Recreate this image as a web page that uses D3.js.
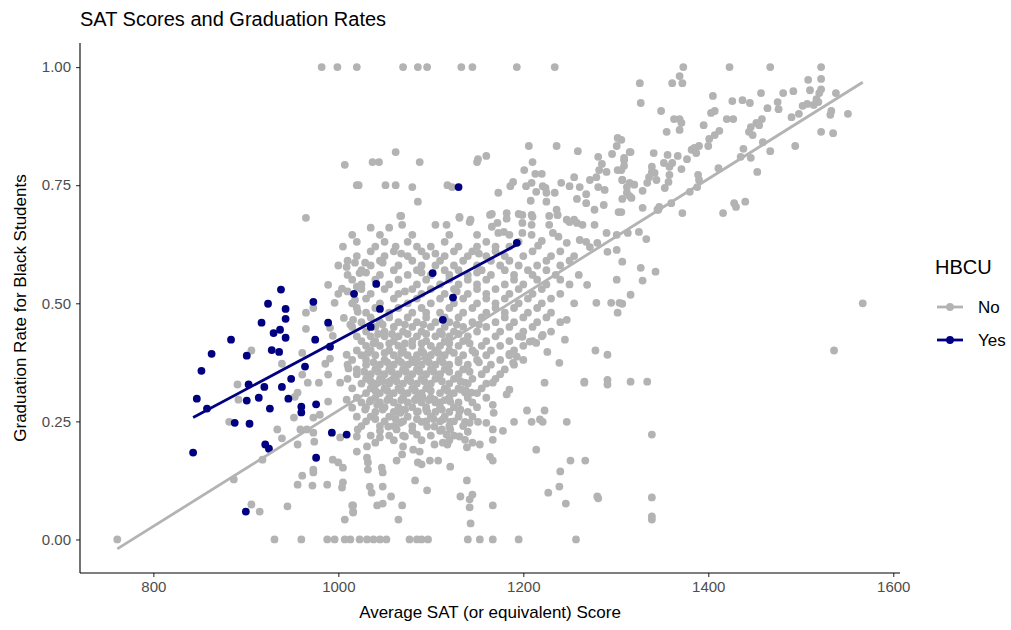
<!DOCTYPE html>
<html lang="en">
<head>
<meta charset="UTF-8">
<title>SAT Scores and Graduation Rates</title>
<script src="https://d3js.org/d3.v7.min.js"></script>
<style>
  body { margin: 0; background: #fff; }
  svg { font-family: "Liberation Sans", Arial, sans-serif; }
  .tick text { fill: #4d4d4d; font-size: 15px; }
</style>
</head>
<body>
<div id="chart"></div>
<script>
// Schools that are not HBCUs: [average SAT, graduation rate for Black students]
const notHbcu = [
  // rate = 1
  [982,1],[999,1],[1020,1],[1070,1],[1086,1],[1096,1],[1133,1],[1145,1],[1193,1],[1234,1],
  [1373,1],[1423,1],[1467,1],[1522,1],
  // rate = 0
  [761,0],[931,0],[960,0],[988,0],[996,0],[1007,0],[1013,0],[1023,0],[1031,0],[1038,0],
  [1045,0],[1052,0],[1077,0],[1085,0],[1090,0],[1097,0],[1140,0],[1153,0],[1167,0],[1195,0],[1257,0],
  // upper left
  [1007,.793],[1020,.75],[965,.681],[1062,.82],[1037,.799],[1044,.799],[1088,.799],[1151,.805],
  [1160,.812],[1150,.799],[1022,.75],[1051,.75],[1062,.75],[1080,.746],[1086,.715],[1068,.685],
  [1118,.75],[1123,.746],[1173,.734],[1186,.748],[1189,.757],[1203,.748],[1209,.755],[1221,.748],
  [1224,.744],[1214,.736],[1225,.734],[1225,.715],[1208,.717],[1234,.734],[1241,.755],
  [1206,.833],[1236,.833],[1259,.822],[1281,.81],[1302,.85],[1301,.833],[1296,.816],
  [1210,.799],[1201,.782],[1213,.774],[1220,.774],
  [1250,.748],[1255,.767],[1261,.746],[1268,.731],[1268,.712],[1258,.721],[1272,.761],[1279,.767],
  [1282,.782],[1285,.795],[1290,.778],[1281,.746],[1288,.74],[1277,.698],[1287,.708],[1303,.693],
  [1302,.782],[1307,.761],[1309,.803],[1312,.746],[1307,.721],[1315,.82],
  [1131,.681],[1143,.677],[1164,.687],[1182,.691],[1195,.689],[1209,.687],[1236,.698],[1237,.687],
  [1247,.677],[1255,.677],
  // upper right
  [1326,.966],[1327,.924],[1369,.981],[1361,.966],[1372,.966],[1349,.907],[1405,.939],[1426,.928],
  [1437,.93],[1445,.924],[1457,.945],[1481,.945],[1492,.949],[1508,.973],[1522,.975],[1522,.953],
  [1520,.945],[1517,.932],[1519,.926],[1510,.951],[1475,.926],[1476,.911],[1464,.913],[1538,.945],
  [1502,.918],[1507,.922],[1514,.92],[1490,.894],[1498,.901],[1533,.907],[1532,.899],[1551,.901],
  [1522,.863],[1535,.86],[1494,.833],[1467,.822],[1459,.841],[1453,.778],[1438,.827],[1435,.81],
  [1446,.808],[1458,.89],[1452,.882],[1446,.873],[1444,.863],[1448,.856],[1455,.877],[1420,.89],
  [1427,.89],[1407,.907],[1403,.903],[1395,.877],[1369,.89],[1363,.89],[1371,.882],[1369,.867],
  [1355,.863],[1412,.865],[1407,.856],[1401,.848],[1400,.833],[1390,.833],[1385,.829],[1382,.825],
  [1387,.818],[1377,.805],[1367,.812],[1356,.814],[1352,.797],[1361,.797],[1358,.789],[1341,.818],
  [1371,.784],[1339,.789],[1339,.778],[1342,.776],[1336,.767],[1334,.755],[1344,.761],[1358,.772],
  [1357,.757],[1353,.744],[1316,.82],[1306,.846],[1309,.808],[1309,.791],[1306,.782],[1307,.761],
  [1315,.755],[1320,.751],[1329,.738],[1312,.734],[1315,.727],[1317,.723],[1389,.772],[1390,.761],
  [1411,.786],[1380,.736],[1347,.704],[1345,.698],[1329,.702],[1360,.712],[1372,.691],[1416,.691],
  [1428,.712],[1430,.704],[1440,.715],[1306,.693],[1388,.746],[1346,.698],
  // right side, below line
  [1313,.649],[1325,.651],[1333,.636],[1307,.588],[1327,.575],[1343,.567],[1329,.548],[1316,.518],
  [1307,.499],[1567,.5],[1536,.4],[1316,.334],[1334,.334],[1339,.222],[1339,.089],[1339,.049],[1339,.042],
  // middle right
  [1067,.685],[1069,.666],[1035,.66],[1055,.66],[1131,.683],[1105,.666],[1117,.666],[1142,.672],
  [1166,.689],[1172,.67],[1166,.662],[1182,.679],[1179,.651],[1173,.649],[1199,.687],[1210,.683],
  [1199,.67],[1209,.666],[1228,.685],[1237,.687],[1250,.672],[1258,.67],[1264,.666],[1277,.666],
  [1228,.666],[1232,.649],[1238,.641],[1220,.632],[1216,.622],[1209,.645],[1199,.649],[1247,.628],
  [1261,.634],[1268,.63],[1272,.619],[1280,.628],[1290,.649],[1301,.645],[1291,.609],[1301,.613],
  [1301,.55],[1279,.501],[1295,.501],[1304,.501],[1302,.48],[1269,.539],[1247,.465],[1245,.423],
  [1221,.433],[1226,.397],[1239,.374],[1278,.4],[1291,.391],[1266,.334],[1291,.338],[1199,.429],
  [1207,.419],[1214,.416],[1185,.393],[1193,.387],[1189,.374],
  // lower middle
  [1266,.332],[1291,.328],[1223,.332],[1167,.332],[1182,.307],[1185,.317],[1167,.285],[1168,.268],
  [1204,.273],[1223,.273],[1209,.249],[1218,.254],[1221,.249],[1247,.249],[1190,.249],[1167,.233],
  [1178,.23],[1167,.211],[1214,.19],[1164,.175],[1167,.167],[1251,.167],[1267,.167],[1240,.144],
  [1239,.112],[1227,.099],[1246,.076],[1280,.091],[1281,.087],[1139,.125],[1145,.095],[1142,.085],
  [1132,.091],[1142,.068],[1167,.072],[1143,.034],[1121,.154],[1083,.125],[1096,.104],[1065,.042],
  [1069,.072],[1057,.091],[1048,.112],[1042,.072],[1048,.076],[1016,.072],[1016,.059],[1034,.112],
  [1036,.099],[1032,.148],[1032,.163],[1047,.152],[1048,.142],[1031,.173],[1090,.159],[1099,.167],
  [1108,.167],[1086,.163],[1063,.167],[1069,.18],[1081,.19],[1088,.186],[1070,.197],[1104,.201],
  [1113,.205],[1118,.201],[1137,.211],[1139,.195],[1145,.205],[1153,.201],[1131,.218],[1140,.228],
  [1137,.249],[1142,.247],[1151,.249],[1160,.247],[1131,.271],[1121,.233],[1144,.311],[1137,.311],
  [1133,.317],[1137,.332],[1121,.292],[1113,.254],[1121,.249],[1020,.186],[1031,.197],[1040,.205],
  [1045,.216],[1020,.218],[1021,.233],[1020,.26],[1015,.279],[1029,.275],[1034,.292],[1042,.285],
  [1054,.239],[1063,.233],[1072,.218],[1067,.247],[1085,.222],[1090,.249],[1096,.239],[1104,.239],
  [1112,.233],[1117,.222],[1086,.271],[1096,.271],[1072,.275],[1067,.268],[1083,.296],[1091,.302],
  [1104,.296],[1110,.29],
  // lower left
  [891,.328],[892,.296],[882,.249],[887,.127],[906,.074],[915,.059],[945,.07],[934,.233],[939,.214],
  [956,.201],[918,.169],[952,.258],[959,.233],[966,.233],[973,.226],[974,.207],[961,.135],[956,.116],
  [972,.114],[988,.116],[973,.148],[973,.142],[1007,.042],[1015,.072],[1016,.057],[1005,.121],
  [1004,.11],[989,.292],[956,.311],[953,.302],[980,.264],[973,.258],[994,.169],[1000,.163],
  [1005,.152],[1002,.216],[1009,.296],
  // left middle
  [1009,.577],[989,.539],[1004,.531],[996,.501],[973,.49],[965,.48],[965,.446],[1006,.469],
  [1013,.455],[991,.448],[994,.431],[906,.4],[961,.395],[939,.372],[986,.372],[991,.383],
  [1009,.391],[1011,.362],[961,.349],[967,.332],[979,.332],[989,.349],[1002,.332],[1020,.535],
  [1023,.564],[1018,.507],[1021,.482],[1016,.465],[1018,.586],[1029,.586],[1048,.586],
  // dense core
  [1015,.645],[1045,.645],[1080,.645],[1120,.645],[1150,.645],[1185,.645],
  [1005,.62],[1040,.62],[1062,.62],[1085,.62],[1100,.62],[1130,.62],[1150,.62],[1170,.62],[1185,.62],
  [1020,.63],[1050,.63],[1075,.63],[1115,.63],[1160,.63],[1195,.63],
  [1035,.61],[1060,.61],[1090,.61],[1125,.61],[1145,.61],[1170,.61],[1210,.61],[1240,.61],
  [1068,.605],[1105,.605],[1152,.605],
  [1020,.6],[1050,.6],[1075,.6],[1095,.6],[1115,.6],[1140,.6],[1160,.6],[1180,.6],[1200,.6],[1230,.6],[1255,.6],
  [1010,.59],[1045,.59],[1080,.59],[1110,.59],[1135,.59],[1165,.59],[1185,.59],[1225,.59],[1250,.59],
  [1000,.58],[1035,.58],[1065,.58],[1090,.58],[1105,.58],[1125,.58],[1150,.58],[1175,.58],[1195,.58],[1215,.58],[1240,.58],
  [1025,.57],[1060,.57],[1085,.57],[1115,.57],[1130,.57],[1155,.57],[1180,.57],[1205,.57],[1225,.57],
  [1030,.565],[1090,.565],[1150,.565],
  [1010,.56],[1045,.56],[1075,.56],[1100,.56],[1120,.56],[1140,.56],[1165,.56],[1190,.56],[1210,.56],[1235,.56],[1260,.56],
  [1015,.55],[1040,.55],[1065,.55],[1095,.55],[1120,.55],[1140,.55],[1160,.55],[1190,.55],[1215,.55],[1240,.55],
  [1025,.54],[1055,.54],[1085,.54],[1110,.54],[1130,.54],[1150,.54],[1180,.54],[1200,.54],[1225,.54],[1250,.54],
  [1025,.53],[1050,.53],[1080,.53],[1100,.53],[1125,.53],[1150,.53],[1170,.53],[1195,.53],[1220,.53],
  [1010,.525],[1072,.525],[1128,.525],
  [1000,.52],[1035,.52],[1065,.52],[1090,.52],[1115,.52],[1140,.52],[1160,.52],[1185,.52],[1210,.52],[1240,.52],
  [1030,.51],[1060,.51],[1085,.51],[1110,.51],[1135,.51],[1160,.51],[1180,.51],[1205,.51],[1230,.51],
  [1015,.5],[1045,.5],[1075,.5],[1100,.5],[1125,.5],[1150,.5],[1170,.5],[1195,.5],[1220,.5],[1255,.5],
  [1020,.49],[1040,.49],[1065,.49],[1090,.49],[1120,.49],[1145,.49],[1170,.49],[1190,.49],[1215,.49],
  [1030,.48],[1055,.48],[1080,.48],[1095,.48],[1110,.48],[1135,.48],[1160,.48],[1180,.48],[1205,.48],[1230,.48],
  [1035,.47],[1055,.47],[1075,.47],[1095,.47],[1115,.47],[1130,.47],[1155,.47],[1180,.47],[1200,.47],[1225,.47],
  [1025,.46],[1045,.46],[1065,.46],[1085,.46],[1105,.46],[1120,.46],[1145,.46],[1170,.46],[1190,.46],[1215,.46],[1240,.46],
  [1048,.455],[1072,.455],[1092,.455],[1128,.455],[1152,.455],
  [1015,.45],[1040,.45],[1060,.45],[1080,.45],[1100,.45],[1115,.45],[1135,.45],[1160,.45],[1185,.45],[1210,.45],
  [1030,.44],[1050,.44],[1070,.44],[1090,.44],[1110,.44],[1125,.44],[1150,.44],[1175,.44],[1200,.44],[1230,.44],
  [1043,.435],[1058,.435],[1075,.435],[1095,.435],[1112,.435],[1130,.435],
  [1020,.43],[1035,.43],[1050,.43],[1065,.43],[1085,.43],[1105,.43],[1120,.43],[1140,.43],[1170,.43],[1195,.43],[1220,.43],
  [1025,.42],[1040,.42],[1060,.42],[1080,.42],[1095,.42],[1115,.42],[1135,.42],[1160,.42],[1185,.42],[1210,.42],
  [1038,.415],[1055,.415],[1072,.415],[1090,.415],[1120,.415],[1142,.415],
  [1030,.41],[1045,.41],[1065,.41],[1080,.41],[1100,.41],[1110,.41],[1130,.41],[1155,.41],[1175,.41],[1200,.41],
  [1020,.4],[1035,.4],[1055,.4],[1070,.4],[1090,.4],[1105,.4],[1120,.4],[1145,.4],[1165,.4],[1190,.4],
  [1032,.395],[1050,.395],[1068,.395],[1092,.395],[1108,.395],[1125,.395],[1148,.395],
  [1025,.39],[1040,.39],[1060,.39],[1075,.39],[1085,.39],[1100,.39],[1115,.39],[1135,.39],[1160,.39],[1185,.39],
  [1015,.38],[1030,.38],[1050,.38],[1065,.38],[1080,.38],[1095,.38],[1110,.38],[1130,.38],[1150,.38],[1175,.38],[1200,.38],
  [1038,.375],[1053,.375],[1068,.375],[1083,.375],[1098,.375],[1113,.375],[1130,.375],[1152,.375],
  [1010,.37],[1030,.37],[1045,.37],[1060,.37],[1075,.37],[1090,.37],[1105,.37],[1120,.37],[1140,.37],[1165,.37],[1190,.37],
  [1020,.36],[1040,.36],[1055,.36],[1070,.36],[1085,.36],[1100,.36],[1115,.36],[1135,.36],[1160,.36],[1180,.36],
  [1028,.355],[1043,.355],[1058,.355],[1073,.355],[1088,.355],[1103,.355],[1120,.355],[1142,.355],
  [1020,.35],[1035,.35],[1050,.35],[1065,.35],[1080,.35],[1095,.35],[1110,.35],[1130,.35],[1155,.35],[1175,.35],
  [1010,.34],[1030,.34],[1045,.34],[1060,.34],[1075,.34],[1090,.34],[1105,.34],[1125,.34],[1145,.34],[1170,.34],
  [1035,.335],[1048,.335],[1063,.335],[1078,.335],[1093,.335],[1112,.335],[1132,.335],
  [1025,.33],[1040,.33],[1055,.33],[1070,.33],[1085,.33],[1100,.33],[1120,.33],[1140,.33],[1160,.33],
  [1015,.32],[1035,.32],[1050,.32],[1065,.32],[1080,.32],[1095,.32],[1115,.32],[1130,.32],[1155,.32],
  [1040,.315],[1053,.315],[1068,.315],[1083,.315],[1100,.315],[1118,.315],[1138,.315],
  [1030,.31],[1045,.31],[1060,.31],[1075,.31],[1090,.31],[1110,.31],[1125,.31],[1150,.31],
  [1020,.3],[1040,.3],[1055,.3],[1070,.3],[1085,.3],[1100,.3],[1120,.3],[1140,.3],[1160,.3],
  [1035,.295],[1053,.295],[1068,.295],[1083,.295],[1098,.295],[1115,.295],
  [1025,.29],[1045,.29],[1060,.29],[1075,.29],[1090,.29],[1105,.29],[1130,.29],[1145,.29],
  [1030,.28],[1050,.28],[1065,.28],[1080,.28],[1095,.28],[1110,.28],[1125,.28],[1150,.28],
  [1048,.275],[1072,.275],[1095,.275],[1112,.275],[1132,.275],
  [1040,.27],[1060,.27],[1085,.27],[1105,.27],[1120,.27],[1140,.27],
  [1035,.26],[1055,.26],[1075,.26],[1100,.26],[1115,.26],[1130,.26],[1145,.26],
  [1040,.255],[1062,.255],[1085,.255],[1103,.255],
  [1030,.25],[1050,.25],[1070,.25],[1095,.25],[1110,.25],[1125,.25],
  [1025,.24],[1045,.24],[1060,.24],[1080,.24],[1120,.24],[1135,.24],
  [1045,.23],[1080,.23],[1110,.23],
  [1035,.22],[1055,.22],[1070,.22],[1100,.22],[1125,.22],
  [1060,.21],[1090,.21],[1120,.21]
];

// HBCUs
const hbcu = [
  [938,.529],[924,.499],[943,.488],[973,.503],[943,.467],[917,.459],[930,.437],[937,.444],
  [943,.427],[884,.423],[975,.423],[989,.459],[863,.393],[901,.389],[928,.401],[936,.397],
  [852,.357],[964,.366],[949,.34],[903,.328],[920,.323],[939,.323],[991,.408],[1017,.52],
  [847,.298],[858,.277],[901,.294],[914,.3],[926,.277],[946,.298],[960,.281],[960,.269],
  [976,.286],[888,.247],[904,.245],[843,.184],[921,.201],[925,.192],[993,.226],[1009,.222],
  [976,.173],[900,.059],[1193,.628],[1102,.564],[1041,.541],[1124,.512],[1045,.488],
  [1113,.465],[1035,.45],[1130,.746]
];

// fitted lines: [sat, rate] at both ends
const fitNo = [[761,-0.02],[1567,.968]];
const fitYes = [[843,.258],[1193,.624]];

const groups = ["No", "Yes"];
const groupColors = ["#b3b3b3", "#000080"];
const xTicks = [800, 1000, 1200, 1400, 1600];
const yTicks = [0, 0.25, 0.5, 0.75, 1];

const width = 1011, height = 630;
const margin = {left: 80, right: 111, top: 43, bottom: 57};
const dotR = 3.9;

const svg = d3.select("#chart").append("svg")
  .attr("width", width).attr("height", height);

// ggplot style 5% expansion
const allPts = notHbcu.concat(hbcu, fitNo, fitYes);
const [x0, x1] = d3.extent(allPts, d => d[0]);
const [y0, y1] = d3.extent(allPts, d => d[1]);
const x = d3.scaleLinear()
  .domain([x0 - (x1 - x0) * 0.05, x1 + (x1 - x0) * 0.05])
  .range([margin.left, width - margin.right]);
const y = d3.scaleLinear()
  .domain([y0 - (y1 - y0) * 0.05, y1 + (y1 - y0) * 0.05])
  .range([height - margin.bottom, margin.top]);

const color = d3.scaleOrdinal(groups, groupColors);

// points
svg.append("g").selectAll("circle")
  .data(notHbcu).join("circle")
  .attr("cx", d => x(d[0])).attr("cy", d => y(d[1]))
  .attr("r", dotR).attr("fill", color("No"));

svg.append("g").selectAll("circle")
  .data(hbcu).join("circle")
  .attr("cx", d => x(d[0])).attr("cy", d => y(d[1]))
  .attr("r", dotR).attr("fill", color("Yes"));

// fit lines
const line = d3.line().x(d => x(d[0])).y(d => y(d[1]));
svg.append("path").datum(fitNo).attr("d", line)
  .attr("stroke", color("No")).attr("stroke-width", 2.8).attr("fill", "none");
svg.append("path").datum(fitYes).attr("d", line)
  .attr("stroke", color("Yes")).attr("stroke-width", 2.8).attr("fill", "none");

// axes
const xAxis = svg.append("g")
  .attr("transform", `translate(0,${height - margin.bottom})`)
  .call(d3.axisBottom(x).tickValues(xTicks).tickFormat(d3.format("d"))
    .tickSizeOuter(0).tickSize(4).tickPadding(4));
const yAxis = svg.append("g")
  .attr("transform", `translate(${margin.left},0)`)
  .call(d3.axisLeft(y).tickValues(yTicks).tickFormat(d3.format(".2f"))
    .tickSizeOuter(0).tickSize(4).tickPadding(5));
[xAxis, yAxis].forEach(a => {
  a.select(".domain").remove();
  a.selectAll(".tick line").attr("stroke", "#333").attr("stroke-width", 1.1);
});
svg.append("line")
  .attr("x1", margin.left).attr("x2", width - margin.right)
  .attr("y1", height - margin.bottom).attr("y2", height - margin.bottom)
  .attr("stroke", "#000").attr("stroke-width", 1.1);
svg.append("line")
  .attr("x1", margin.left).attr("x2", margin.left)
  .attr("y1", margin.top).attr("y2", height - margin.bottom)
  .attr("stroke", "#000").attr("stroke-width", 1.1);

// titles
svg.append("text").attr("x", margin.left).attr("y", 26)
  .attr("font-size", 20).attr("fill", "#000").text("SAT Scores and Graduation Rates");
svg.append("text")
  .attr("x", (margin.left + width - margin.right) / 2).attr("y", 618)
  .attr("text-anchor", "middle").attr("font-size", 17).text("Average SAT (or equivalent) Score");
svg.append("text")
  .attr("transform", `translate(26,${(margin.top + height - margin.bottom) / 2}) rotate(-90)`)
  .attr("text-anchor", "middle").attr("font-size", 17).text("Graduation Rate for Black Students");

// legend
const legend = svg.append("g").attr("transform", "translate(935,0)");
legend.append("text").attr("x", 0).attr("y", 274).attr("font-size", 20).text("HBCU");
groups.forEach((g, i) => {
  const cy = 307 + i * 33;
  legend.append("line").attr("x1", 2).attr("x2", 28).attr("y1", cy).attr("y2", cy)
    .attr("stroke", color(g)).attr("stroke-width", 2.8);
  legend.append("circle").attr("cx", 15).attr("cy", cy).attr("r", dotR).attr("fill", color(g));
  legend.append("text").attr("x", 43).attr("y", cy + 6).attr("font-size", 17).attr("fill", "#000").text(g);
});
</script>
</body>
</html>
